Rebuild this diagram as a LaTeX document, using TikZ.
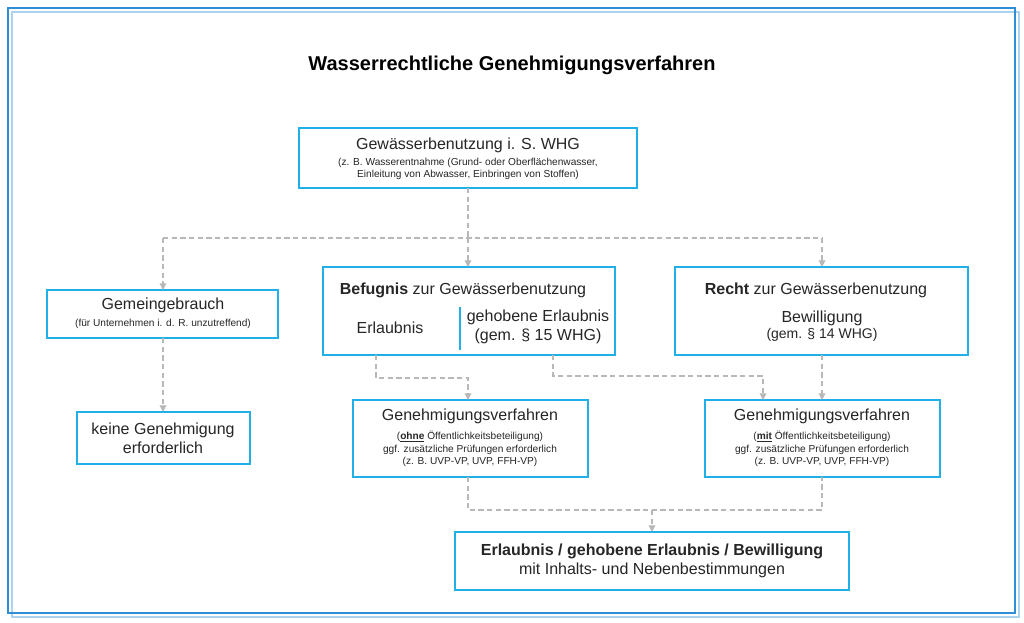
\documentclass[tikz,border=0pt]{standalone}
\usepackage{fontspec}
\setmainfont{Liberation Sans}
\usetikzlibrary{arrows.meta}
\definecolor{cy}{HTML}{1EB0E6}
\definecolor{fr}{HTML}{2E8FD6}
\definecolor{ln}{HTML}{B8B8B8}
\definecolor{tx}{HTML}{262626}
\begin{document}
\begin{tikzpicture}[x=0.75pt,y=-0.75pt,
 box/.style={draw=cy,line width=1.4pt,fill=white},
 con/.style={draw=ln,dashed,line width=0.9pt,dash pattern=on 4pt off 2.5pt},
 arr/.style={con,-{Triangle[width=5pt,length=5pt,fill=ln]}},
 big/.style={font=\fontsize{12}{14}\selectfont,text=tx,align=center},
 sm/.style={font=\fontsize{7.6}{9.5}\selectfont,text=tx,align=center}]
\useasboundingbox (0,0) rectangle (1024,622);
\fill[white] (0,0) rectangle (1024,622);
\draw[fr!40,line width=2pt] (12,12) rectangle (1019,617);
\draw[fr,line width=2.2pt] (8,8) rectangle (1015,613);
\node[font=\fontsize{15}{18}\selectfont\bfseries,text=black] (title) at (512,65) {Wasserrechtliche Genehmigungsverfahren};
% boxes
\path[box] (299,128) rectangle (637,188);
\coordinate (topb) at (468,188);
\node[big] (t1) at (468,145) {Gewässerbenutzung i. S. WHG};
\node[sm] (t2) at (468,169) {(z. B. Wasserentnahme (Grund- oder Oberflächenwasser,\\Einleitung von Abwasser, Einbringen von Stoffen)};
\path[box] (47,290) rectangle (278,338);
\node[big] (g1) at (163,305) {Gemeingebrauch};
\node[sm] (g2) at (163,324) {(für Unternehmen i. d. R. unzutreffend)};
\path[box] (323,267) rectangle (615,355);
\node[big] (b1) at (463,290) {\textbf{Befugnis} zur Gewässerbenutzung};
\node[big] (b2) at (390,328) {Erlaubnis};
\node[big] (b3) at (538,327) {gehobene Erlaubnis\\(gem. § 15 WHG)};
\draw[cy,line width=1pt] (460,307) -- (460,350);
\path[box] (675,267) rectangle (968,355);
\node[big] (r1) at (816,290) {\textbf{Recht} zur Gewässerbenutzung};
\node[big] (r2) at (822,326) {Bewilligung\\[-2pt]{\fontsize{10.5}{12}\selectfont(gem. § 14 WHG)}};
\path[box] (77,412) rectangle (250,464);
\node[big] (k) at (163,438) {keine Genehmigung\\erforderlich};
\path[box] (353,400) rectangle (588,477);
\node[big] (v1) at (470,416) {Genehmigungsverfahren};
\node[sm] (v2) at (470,449) {(\underline{\textbf{ohne}} Öffentlichkeitsbeteiligung)\\ggf. zusätzliche Prüfungen erforderlich\\(z. B. UVP-VP, UVP, FFH-VP)};
\path[box] (705,400) rectangle (940,477);
\node[big] (w1) at (822,416) {Genehmigungsverfahren};
\node[sm] (w2) at (822,449) {(\underline{\textbf{mit}} Öffentlichkeitsbeteiligung)\\ggf. zusätzliche Prüfungen erforderlich\\(z. B. UVP-VP, UVP, FFH-VP)};
\path[box] (455,532) rectangle (849,590);
\node[big] (f) at (652,561) {\textbf{Erlaubnis / gehobene Erlaubnis / Bewilligung}\\mit Inhalts- und Nebenbestimmungen};
% connectors
\coordinate (j) at (468,238);
\draw[con] (topb) -- (j);
\draw[con] (163,238) -- (822,238);
\draw[arr] (163,238) -- (163,290);
\draw[arr] (j) -- (468,267);
\draw[arr] (822,238) -- (822,267);
\draw[arr] (163,338) -- (163,412);
\draw[arr] (376,355) -- (376,378) -- (468,378) -- (468,400);
\draw[arr] (553,355) -- (553,376) -- (763,376) -- (763,400);
\draw[arr] (822,355) -- (822,400);
\draw[con] (468,477) -- (468,510) -- (822,510) -- (822,477);
\draw[arr] (652,510) -- (652,532);
\end{tikzpicture}
\end{document}
